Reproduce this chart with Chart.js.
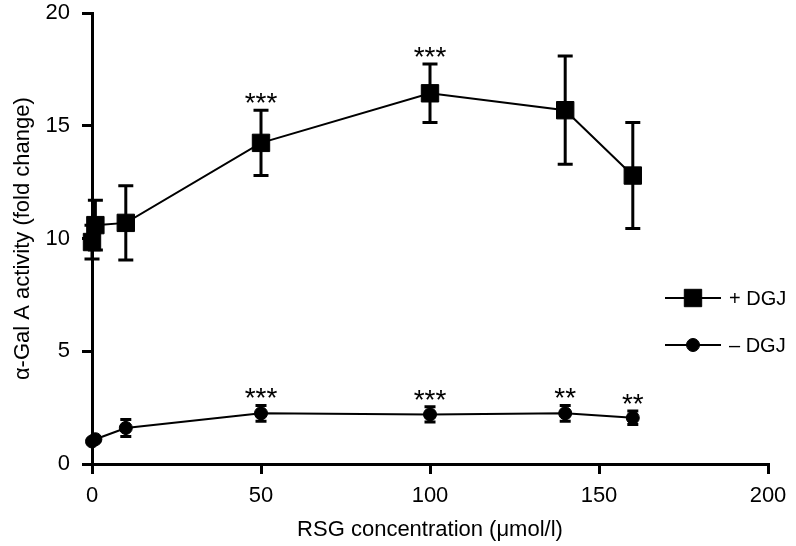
<!DOCTYPE html>
<html><head><meta charset="utf-8">
<script src="https://cdn.jsdelivr.net/npm/chart.js@4.4.1/dist/chart.umd.min.js"></script>
<style>html,body{margin:0;padding:0;background:#fff;}#wrap{width:796px;height:546px;position:relative;}</style>
</head><body><div id="wrap"><canvas id="c" width="796" height="546"></canvas></div>
<script>
// ---- data ----
const concentrations = [0, 1, 10, 50, 100, 140, 160];
const plusDGJ = [9.85, 10.6, 10.7, 14.25, 16.45, 15.7, 12.8];
const plusDGJErr = [0.75, 1.1, 1.65, 1.45, 1.3, 2.4, 2.35];
const minusDGJ = [1.0, 1.1, 1.6, 2.25, 2.2, 2.25, 2.05];
const minusDGJErr = [0.05, 0.1, 0.38, 0.35, 0.34, 0.35, 0.3];
const plusStars = ['', '', '', '***', '***', '', ''];
const minusStars = ['', '', '', '***', '***', '**', '**'];
const seriesLabels = ['+ DGJ', '\u2013 DGJ'];
const xTicks = [0, 50, 100, 150, 200];
const yTicks = [0, 5, 10, 15, 20];
const xTitle = 'RSG concentration (\u03bcmol/l)';
const yTitle = '\u03b1-Gal A activity (fold change)';

const FONT = '"Liberation Sans", Arial, Helvetica, sans-serif';

const errorBars = {
  id: 'errorBars',
  beforeDatasetsDraw(chart) {
    const {ctx, scales: {x, y}} = chart;
    ctx.save();
    ctx.strokeStyle = '#000'; ctx.lineWidth = 3; ctx.lineCap = 'butt';
    chart.data.datasets.forEach(ds => {
      ds.data.forEach((p, i) => {
        const e = ds.errors[i];
        const px = x.getPixelForValue(p.x);
        const top = y.getPixelForValue(p.y + e), bot = y.getPixelForValue(p.y - e);
        ctx.beginPath();
        ctx.moveTo(px, top); ctx.lineTo(px, bot);
        ctx.moveTo(px - ds.capHalf, top); ctx.lineTo(px + ds.capHalf, top);
        ctx.moveTo(px - ds.capHalf, bot); ctx.lineTo(px + ds.capHalf, bot);
        ctx.stroke();
      });
    });
    ctx.restore();
  },
  afterDatasetsDraw(chart) {
    const {ctx, scales: {x, y}} = chart;
    ctx.save();
    ctx.fillStyle = '#000';
    ctx.font = '28px ' + FONT;
    ctx.textAlign = 'center'; ctx.textBaseline = 'alphabetic';
    chart.data.datasets.forEach(ds => {
      ds.data.forEach((p, i) => {
        const s = ds.stars[i];
        if (!s) return;
        const px = x.getPixelForValue(p.x);
        const top = y.getPixelForValue(p.y + ds.errors[i]);
        ctx.fillText(s, px, top + 2);
      });
    });
    ctx.restore();
  }
};

const lineLegend = {
  id: 'lineLegend',
  afterDraw(chart, args, opts) {
    const ctx = chart.ctx;
    chart.data.datasets.forEach((ds, i) => {
      const y = opts.y[i];
      ctx.save();
      ctx.strokeStyle = '#000'; ctx.lineWidth = 2;
      ctx.beginPath(); ctx.moveTo(opts.x1, y); ctx.lineTo(opts.x2, y); ctx.stroke();
      ctx.fillStyle = '#000'; ctx.strokeStyle = '#000'; ctx.lineWidth = 1;
      Chart.helpers.drawPoint(ctx, {pointStyle: ds.pointStyle, radius: ds.pointRadius, borderWidth: 1, rotation: 0}, (opts.x1 + opts.x2) / 2, y);
      ctx.font = '20px ' + FONT;
      ctx.textAlign = 'left'; ctx.textBaseline = 'middle';
      ctx.fillText(ds.label, opts.textX, y + 1);
      ctx.restore();
    });
  }
};

new Chart(document.getElementById('c'), {
  type: 'line',
  data: {
    datasets: [
      {
        label: seriesLabels[0],
        data: concentrations.map((c, i) => ({x: c, y: plusDGJ[i]})),
        errors: plusDGJErr, stars: plusStars, capHalf: 7.5,
        borderColor: '#000', backgroundColor: '#000', borderWidth: 2,
        pointStyle: 'rect', pointRadius: 12.3, pointBorderWidth: 1,
        pointBackgroundColor: '#000', pointBorderColor: '#000',
        tension: 0, clip: false
      },
      {
        label: seriesLabels[1],
        data: concentrations.map((c, i) => ({x: c, y: minusDGJ[i]})),
        errors: minusDGJErr, stars: minusStars, capHalf: 5.5,
        borderColor: '#000', backgroundColor: '#000', borderWidth: 2,
        pointStyle: 'circle', pointRadius: 6.5, pointBorderWidth: 1,
        pointBackgroundColor: '#000', pointBorderColor: '#000',
        tension: 0, clip: false
      }
    ]
  },
  options: {
    responsive: false, animation: false, devicePixelRatio: 1,
    layout: {padding: {top: 13, right: 28, bottom: 0, left: 0}},
    plugins: {
      legend: {display: false}, tooltip: {enabled: false},
      lineLegend: {x1: 665, x2: 721, textX: 729, y: [298, 345]}
    },
    scales: {
      x: {
        type: 'linear', min: 0, max: 200,
        afterBuildTicks: s => { s.ticks = xTicks.map(v => ({value: v})); },
        afterFit: s => { s.height = 82; s.paddingLeft = 0; s.paddingRight = 0; },
        border: {display: true, color: '#000', width: 3},
        grid: {drawOnChartArea: false, drawTicks: true, tickLength: 10, tickWidth: 3, tickColor: '#000', lineWidth: 3, color: '#000'},
        ticks: {color: '#000', font: {family: FONT, size: 22}, padding: 9, maxRotation: 0, autoSkip: false},
        title: {display: true, text: xTitle, color: '#000', font: {family: FONT, size: 22}, padding: {top: 0, bottom: 3}}
      },
      y: {
        type: 'linear', min: 0, max: 20,
        afterBuildTicks: s => { s.ticks = yTicks.map(v => ({value: v})); },
        afterFit: s => { s.width = 92; s.paddingTop = 0; s.paddingBottom = 0; },
        border: {display: true, color: '#000', width: 3},
        grid: {drawOnChartArea: false, drawTicks: true, tickLength: 10, tickWidth: 3, tickColor: '#000', lineWidth: 3, color: '#000'},
        ticks: {color: '#000', font: {family: FONT, size: 22}, padding: 12},
        title: {display: true, text: yTitle, color: '#000', font: {family: FONT, size: 22}, padding: {top: 10, bottom: 0}}
      }
    }
  },
  plugins: [errorBars, lineLegend]
});
</script></body></html>
